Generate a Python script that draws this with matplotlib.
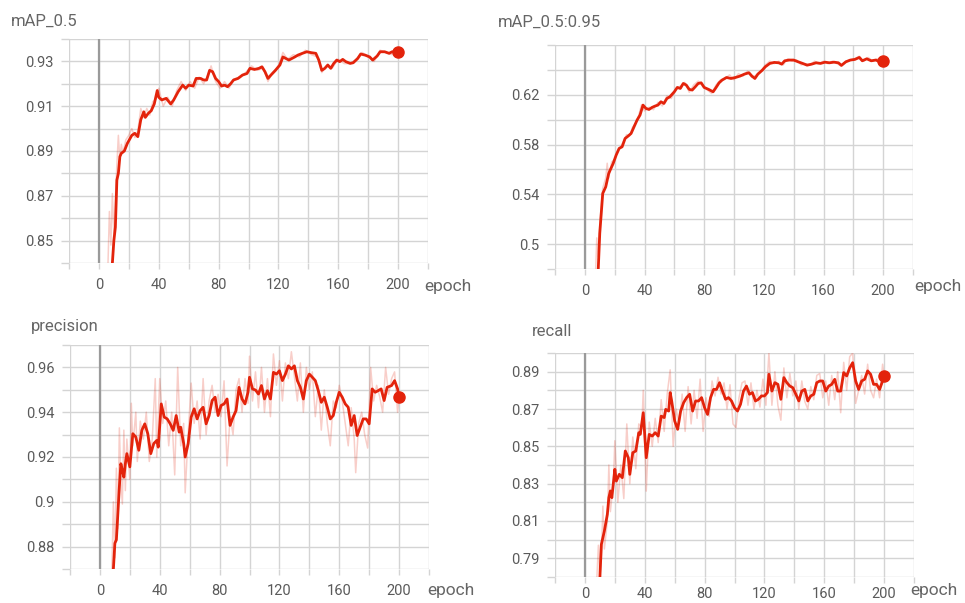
import matplotlib
matplotlib.use("Agg")
import matplotlib.pyplot as plt
from matplotlib import ticker

plt.rcParams["font.family"] = ["Roboto", "DejaVu Sans"]

RED = "#e3230b"
GRID = "#d4d4d4"
TEXT = "#5a5a5a"

# ---- mAP_0.5 ----
MAP50_EP = [6, 8, 9, 10, 11, 12, 13, 14, 15, 17, 19, 22, 24, 26, 28, 30, 31, 33, 35, 37, 39, 40,
            42, 45, 48, 50, 53, 56, 58, 60, 63, 65, 68, 70, 72, 74, 76, 78, 80, 82, 84, 86, 88,
            90, 93, 96, 99, 101, 104, 107, 109, 111, 113, 115, 118, 121, 123, 125, 127, 129, 131,
            133, 136, 139, 142, 145, 147, 149, 151, 153, 155, 157, 159, 161, 163, 165, 168, 170,
            173, 175, 178, 181, 183, 186, 188, 191, 194, 196, 199, 200]
MAP50 = [0.78, 0.825, 0.84, 0.85, 0.856, 0.877, 0.88, 0.8875, 0.889, 0.890, 0.8934, 0.897, 0.8979,
         0.8964, 0.904, 0.9075, 0.905, 0.9068, 0.908, 0.911, 0.917, 0.914, 0.9128, 0.9135, 0.911,
         0.9128, 0.9165, 0.9194, 0.918, 0.9194, 0.919, 0.9224, 0.9224, 0.9217, 0.9217, 0.926,
         0.9254, 0.9224, 0.921, 0.919, 0.9194, 0.9187, 0.920, 0.9217, 0.9224, 0.9239, 0.9246,
         0.9269, 0.9264, 0.9269, 0.9276, 0.9254, 0.9224, 0.9239, 0.926, 0.9284, 0.932, 0.9313,
         0.9306, 0.9313, 0.932, 0.9328, 0.9336, 0.9343, 0.9339, 0.9336, 0.9306, 0.926, 0.9269,
         0.9284, 0.9269, 0.9291, 0.9306, 0.9299, 0.9309, 0.9299, 0.9291, 0.9294, 0.9313, 0.9333,
         0.9328, 0.932, 0.9306, 0.9324, 0.9343, 0.9343, 0.9336, 0.9343, 0.9343, 0.9343]
MAP50_RAW_EP = [5, 6, 7, 8, 9, 10, 11, 12, 13, 14, 15, 16, 18, 20, 22, 24, 26, 28, 30, 32, 34, 36,
                38, 40, 43, 46, 49, 52, 55, 58, 61, 64, 67, 70, 73, 75, 78, 81, 84, 87, 90, 94, 98,
                102, 106, 110, 113, 116, 120, 123, 126, 130, 134, 138, 142, 146, 149, 152, 156,
                160, 164, 168, 172, 176, 180, 184, 188, 192, 196, 200]
MAP50_RAW = [0.80, 0.838, 0.863, 0.848, 0.871, 0.853, 0.868, 0.884, 0.897, 0.886, 0.893, 0.889,
             0.895, 0.897, 0.900, 0.896, 0.899, 0.909, 0.905, 0.909, 0.906, 0.912, 0.913, 0.918,
             0.910, 0.914, 0.910, 0.917, 0.921, 0.917, 0.921, 0.918, 0.923, 0.920, 0.924, 0.928,
             0.921, 0.918, 0.921, 0.918, 0.922, 0.923, 0.925, 0.928, 0.926, 0.927, 0.921, 0.925,
             0.928, 0.934, 0.931, 0.933, 0.932, 0.935, 0.933, 0.932, 0.925, 0.928, 0.927, 0.931,
             0.929, 0.929, 0.931, 0.934, 0.932, 0.930, 0.935, 0.934, 0.933, 0.935]

# ---- mAP_0.5:0.95 ----
MAP95_EP = [6, 8, 9, 10, 11, 12, 14, 16, 17, 19, 21, 23, 25, 27, 29, 31, 33, 35, 37, 39, 41, 43,
            45, 47, 49, 51, 53, 55, 57, 60, 62, 64, 66, 68, 70, 72, 74, 76, 78, 80, 83, 86, 88,
            90, 92, 95, 98, 101, 104, 107, 110, 112, 114, 116, 119, 121, 124, 127, 130, 132, 134,
            137, 140, 143, 146, 149, 152, 155, 158, 161, 164, 167, 170, 172, 175, 178, 181, 184,
            186, 189, 192, 195, 198, 200]
MAP95 = [0.40, 0.46, 0.48, 0.5086, 0.5246, 0.5407, 0.546, 0.5568, 0.5595, 0.5648, 0.5715, 0.5769,
         0.5782, 0.5849, 0.5868, 0.5889, 0.5943, 0.5996, 0.6037, 0.6117, 0.609, 0.6082, 0.6098,
         0.6109, 0.6117, 0.6144, 0.613, 0.617, 0.6184, 0.6224, 0.6259, 0.6251, 0.6291, 0.6278,
         0.6243, 0.6238, 0.6264, 0.6291, 0.6296, 0.6259, 0.6243, 0.6224, 0.6259, 0.6296, 0.6318,
         0.6339, 0.6331, 0.6339, 0.635, 0.6366, 0.6377, 0.635, 0.6331, 0.6366, 0.6398, 0.6425,
         0.6452, 0.646, 0.6457, 0.6446, 0.6473, 0.6479, 0.6479, 0.6465, 0.6452, 0.6438, 0.6446,
         0.6457, 0.6452, 0.6462, 0.6457, 0.6462, 0.6457, 0.6436, 0.6465, 0.6479, 0.6484, 0.650,
         0.6473, 0.6489, 0.6473, 0.6479, 0.6465, 0.647]
MAP95_RAW_EP = [7, 8, 9, 10, 11, 12, 14, 15, 16, 18, 20, 22, 24, 26, 28, 30, 32, 34, 36, 38, 40,
                43, 46, 49, 52, 55, 58, 61, 64, 67, 70, 73, 76, 79, 82, 85, 88, 91, 94, 97, 100,
                103, 106, 109, 112, 115, 118, 121, 124, 127, 130, 133, 136, 139, 142, 145, 148,
                151, 154, 157, 160, 163, 166, 169, 172, 175, 178, 181, 184, 187, 190, 193, 196, 200]
MAP95_RAW = [0.47, 0.505, 0.49, 0.515, 0.53, 0.545, 0.553, 0.565, 0.553, 0.566, 0.568, 0.575,
             0.578, 0.583, 0.588, 0.587, 0.594, 0.597, 0.603, 0.612, 0.607, 0.61, 0.608, 0.614,
             0.611, 0.619, 0.617, 0.625, 0.627, 0.63, 0.622, 0.628, 0.631, 0.628, 0.624, 0.621,
             0.628, 0.632, 0.633, 0.636, 0.632, 0.637, 0.635, 0.639, 0.634, 0.636, 0.639, 0.644,
             0.647, 0.645, 0.647, 0.644, 0.649, 0.647, 0.648, 0.644, 0.645, 0.644, 0.647, 0.645,
             0.647, 0.645, 0.647, 0.645, 0.643, 0.647, 0.648, 0.649, 0.651, 0.647, 0.65, 0.647,
             0.649, 0.646]

# ---- precision ----
PREC_EP = [6, 8, 9, 10, 11, 12, 13, 14, 15, 16, 17, 18, 20, 22, 24, 26, 28, 30, 32, 34, 36, 38,
           39, 41, 43, 45, 47, 49, 51, 53, 54, 56, 57, 59, 61, 63, 65, 67, 69, 71, 73, 75, 77, 79,
           81, 83, 85, 87, 89, 91, 93, 95, 97, 99, 100, 102, 104, 106, 108, 110, 112, 114, 116,
           118, 120, 122, 124, 126, 128, 130, 132, 134, 136, 138, 140, 142, 144, 146, 148, 150,
           152, 154, 156, 158, 160, 162, 164, 166, 168, 170, 172, 174, 176, 178, 180, 182, 184,
           186, 188, 190, 192, 195, 197, 199, 200]
PREC = [0.80, 0.86, 0.87, 0.8815, 0.883, 0.8948, 0.9067, 0.917, 0.914, 0.911, 0.917, 0.9215,
        0.9156, 0.9304, 0.9289, 0.923, 0.9319, 0.9348, 0.9304, 0.9215, 0.926, 0.9274, 0.9244,
        0.9437, 0.9378, 0.937, 0.9348, 0.9319, 0.9385, 0.9311, 0.9333, 0.926, 0.92, 0.926,
        0.9378, 0.9415, 0.937, 0.9407, 0.9422, 0.9348, 0.9385, 0.9452, 0.9467, 0.9385, 0.943,
        0.9437, 0.9459, 0.9341, 0.9378, 0.9407, 0.9511, 0.9459, 0.9437, 0.9489, 0.9556, 0.9504,
        0.9499, 0.9481, 0.9519, 0.9459, 0.9496, 0.9459, 0.9578, 0.957, 0.9585, 0.9541, 0.957,
        0.9607, 0.9593, 0.9607, 0.9541, 0.9511, 0.9459, 0.9541, 0.957, 0.9556, 0.9541, 0.9496,
        0.9444, 0.9467, 0.9422, 0.937, 0.9385, 0.9444, 0.9489, 0.9467, 0.9437, 0.9422, 0.9341,
        0.9385, 0.9296, 0.9333, 0.937, 0.937, 0.9348, 0.9504, 0.9489, 0.9496, 0.9504, 0.9452,
        0.9511, 0.9519, 0.9541, 0.9504, 0.9467]
PREC_RAW_EP = [8, 9, 10, 11, 12, 13, 14, 15, 16, 17, 18, 20, 21, 22, 24, 25, 27, 29, 31, 33, 35,
               37, 38, 40, 42, 44, 46, 48, 50, 52, 54, 56, 57, 59, 61, 63, 65, 67, 69, 71, 73, 75,
               77, 79, 81, 83, 85, 87, 89, 91, 93, 95, 97, 99, 100, 102, 104, 106, 108, 110, 112,
               114, 116, 118, 120, 122, 124, 126, 128, 130, 132, 134, 136, 138, 140, 142, 144,
               146, 148, 150, 152, 154, 156, 158, 160, 162, 164, 166, 168, 170, 171, 173, 175,
               177, 179, 181, 183, 185, 187, 189, 191, 193, 195, 197, 199, 200]
PREC_RAW = [0.87, 0.90, 0.875, 0.915, 0.888, 0.933, 0.910, 0.899, 0.932, 0.905, 0.928, 0.91,
            0.944, 0.925, 0.94, 0.918, 0.936, 0.928, 0.94, 0.918, 0.928, 0.955, 0.92, 0.955,
            0.935, 0.945, 0.925, 0.94, 0.912, 0.96, 0.925, 0.935, 0.904, 0.93, 0.953, 0.935,
            0.945, 0.928, 0.955, 0.93, 0.945, 0.952, 0.94, 0.948, 0.938, 0.954, 0.916, 0.938,
            0.93, 0.95, 0.955, 0.94, 0.955, 0.944, 0.965, 0.945, 0.958, 0.942, 0.96, 0.94, 0.955,
            0.938, 0.966, 0.952, 0.963, 0.945, 0.962, 0.955, 0.967, 0.956, 0.945, 0.962, 0.94,
            0.96, 0.95, 0.958, 0.938, 0.952, 0.932, 0.95, 0.935, 0.925, 0.945, 0.942, 0.952,
            0.945, 0.935, 0.925, 0.942, 0.928, 0.913, 0.935, 0.94, 0.93, 0.924, 0.96, 0.945,
            0.952, 0.947, 0.94, 0.96, 0.948, 0.955, 0.958, 0.94, 0.947]

# ---- recall ----
REC_EP = [6, 9, 10, 11, 13, 15, 16, 17, 18, 20, 21, 23, 25, 27, 29, 30, 32, 34, 36, 37, 39, 41,
          43, 45, 47, 49, 51, 53, 54, 56, 57, 58, 60, 62, 64, 66, 68, 70, 72, 74, 76, 78, 80, 82,
          84, 86, 88, 90, 92, 94, 96, 98, 100, 102, 104, 106, 108, 110, 112, 114, 116, 118, 120,
          122, 123, 125, 127, 129, 131, 133, 135, 137, 139, 141, 143, 145, 147, 149, 151, 153,
          155, 157, 159, 161, 163, 165, 167, 169, 171, 173, 175, 177, 179, 181, 183, 185, 187,
          189, 191, 193, 195, 197, 199, 200]
REC = [0.72, 0.77, 0.7796, 0.7975, 0.8046, 0.8136, 0.8225, 0.8261, 0.8225, 0.8377, 0.8314, 0.835,
       0.8332, 0.8475, 0.8439, 0.835, 0.8466, 0.8475, 0.8573, 0.8564, 0.868, 0.8439, 0.8564,
       0.8555, 0.8573, 0.8555, 0.8662, 0.8654, 0.8698, 0.8689, 0.8788, 0.8743, 0.8636, 0.8591,
       0.8689, 0.8734, 0.8761, 0.8779, 0.8689, 0.8743, 0.8743, 0.8761, 0.8707, 0.8671, 0.8761,
       0.8805, 0.8805, 0.8841, 0.8796, 0.8752, 0.8761, 0.8743, 0.8707, 0.8689, 0.8725, 0.8796,
       0.8823, 0.8779, 0.8788, 0.8743, 0.8752, 0.877, 0.877, 0.8788, 0.8886, 0.8796, 0.8841,
       0.8832, 0.8752, 0.8868, 0.8841, 0.8823, 0.8814, 0.8779, 0.8743, 0.8796, 0.8805, 0.8743,
       0.877, 0.8779, 0.8841, 0.885, 0.885, 0.8796, 0.8823, 0.8832, 0.8859, 0.8796, 0.8796,
       0.8895, 0.8877, 0.892, 0.8948, 0.885, 0.8805, 0.885, 0.8859, 0.8904, 0.8886, 0.8832,
       0.8832, 0.8805, 0.885, 0.8879]
REC_RAW_EP = [8, 9, 10, 11, 12, 13, 15, 16, 17, 19, 20, 22, 24, 26, 28, 30, 32, 34, 36, 38, 39,
              41, 43, 45, 47, 49, 51, 53, 55, 57, 59, 61, 63, 65, 67, 69, 71, 73, 75, 77, 79, 81,
              83, 85, 87, 89, 91, 93, 95, 97, 99, 101, 103, 105, 107, 109, 111, 113, 115, 117,
              119, 121, 123, 125, 127, 129, 131, 133, 135, 137, 139, 141, 143, 145, 147, 149,
              151, 153, 155, 157, 159, 161, 163, 165, 167, 169, 171, 173, 175, 177, 179, 181,
              183, 185, 187, 189, 191, 193, 195, 197, 199, 200]
REC_RAW = [0.78, 0.797, 0.78, 0.79, 0.818, 0.795, 0.81, 0.84, 0.815, 0.83, 0.853, 0.82, 0.84,
           0.822, 0.862, 0.83, 0.855, 0.838, 0.862, 0.86, 0.88, 0.826, 0.863, 0.85, 0.865, 0.852,
           0.875, 0.858, 0.878, 0.891, 0.85, 0.87, 0.862, 0.878, 0.858, 0.882, 0.862, 0.88,
           0.865, 0.886, 0.858, 0.876, 0.866, 0.885, 0.877, 0.887, 0.878, 0.884, 0.87, 0.883,
           0.862, 0.86, 0.876, 0.884, 0.885, 0.872, 0.884, 0.87, 0.88, 0.871, 0.886, 0.872, 0.9,
           0.872, 0.89, 0.872, 0.864, 0.892, 0.876, 0.889, 0.877, 0.885, 0.87, 0.885, 0.874,
           0.87, 0.882, 0.875, 0.888, 0.889, 0.876, 0.885, 0.872, 0.888, 0.875, 0.89, 0.868,
           0.895, 0.88, 0.898, 0.9, 0.873, 0.88, 0.888, 0.878, 0.894, 0.88, 0.876, 0.886, 0.876,
           0.894, 0.888]

X_MAJOR = [0, 40, 80, 120, 160, 200]
X_MINOR = [-20, 20, 60, 100, 140, 180, 220]

PANELS = [
    # title, smooth ep, smooth, raw ep, raw, ylim, y labels, y minor,
    # axes box (px), title pos (px), "epoch" pos (px), x label pad
    ("mAP_0.5", MAP50_EP, MAP50, MAP50_RAW_EP, MAP50_RAW, (0.84, 0.94),
     [0.85, 0.87, 0.89, 0.91, 0.93], [0.84, 0.86, 0.88, 0.90, 0.92, 0.94],
     [69, 39, 428, 263], (11, 21), (424, 287), 7),
    ("mAP_0.5:0.95", MAP95_EP, MAP95, MAP95_RAW_EP, MAP95_RAW, (0.48, 0.66),
     [0.50, 0.54, 0.58, 0.62], [0.48, 0.52, 0.56, 0.60, 0.64, 0.66],
     [555, 45, 913, 269], (498, 22), (914, 287), 7),
    ("precision", PREC_EP, PREC, PREC_RAW_EP, PREC_RAW, (0.87, 0.97),
     [0.88, 0.90, 0.92, 0.94, 0.96], [0.87, 0.89, 0.91, 0.93, 0.95, 0.97],
     [70, 345, 429, 569], (31, 327), (427, 591), 7),
    ("recall", REC_EP, REC, REC_RAW_EP, REC_RAW, (0.78, 0.90),
     [0.79, 0.81, 0.83, 0.85, 0.87, 0.89], [0.78, 0.80, 0.82, 0.84, 0.86, 0.88, 0.90],
     [555, 353, 914, 577], (532, 331), (910, 591), 3),
]

W, H = 965, 603


def draw_panel(fig, panel):
    title, ep, val, raw_ep, raw, ylim, ymaj, ymin, box, tpos, epos, xpad = panel
    l, t, r, b = box
    ax = fig.add_axes([l / W, 1 - b / H, (r - l) / W, (b - t) / H])
    ax.plot(raw_ep, raw, color=RED, alpha=0.22, lw=1.1, zorder=3)
    ax.plot(ep, val, color=RED, lw=2.0, zorder=4, solid_joinstyle="round")
    ax.plot([ep[-1]], [val[-1]], "o", color=RED, ms=8, zorder=5)
    ax.axvline(0, color="#9a9a9a", lw=1.6, zorder=2)

    ax.set_xlim(-20, 220)
    ax.set_ylim(*ylim)
    ax.xaxis.set_major_locator(ticker.FixedLocator(X_MAJOR))
    ax.xaxis.set_minor_locator(ticker.FixedLocator(X_MINOR))
    ax.yaxis.set_major_locator(ticker.FixedLocator(ymaj))
    ax.yaxis.set_minor_locator(ticker.FixedLocator(ymin))
    ax.yaxis.set_major_formatter(ticker.FuncFormatter(lambda v, _: f"{v:g}"))
    ax.grid(True, which="both", color=GRID, lw=1.0, zorder=1)
    ax.set_axisbelow(True)
    for s in ax.spines.values():
        s.set_visible(False)
    ax.tick_params(axis="x", which="both", length=4, color=GRID, width=1.0,
                   labelsize=10.5, labelcolor=TEXT, pad=xpad)
    ax.tick_params(axis="y", which="both", length=6, color=GRID, width=1.0,
                   labelsize=10.5, labelcolor=TEXT, pad=5)
    ax.set_facecolor("white")

    fig.text(tpos[0] / W, 1 - tpos[1] / H, title, fontsize=12, color="#666666",
             ha="left", va="center")
    fig.text(epos[0] / W, 1 - epos[1] / H, "epoch", fontsize=12.5, color="#666666",
             ha="left", va="center")


def main():
    fig = plt.figure(figsize=(W / 100, H / 100), dpi=100)
    for panel in PANELS:
        draw_panel(fig, panel)
    fig.savefig("out.png", dpi=100, facecolor="white")


if __name__ == "__main__":
    main()
